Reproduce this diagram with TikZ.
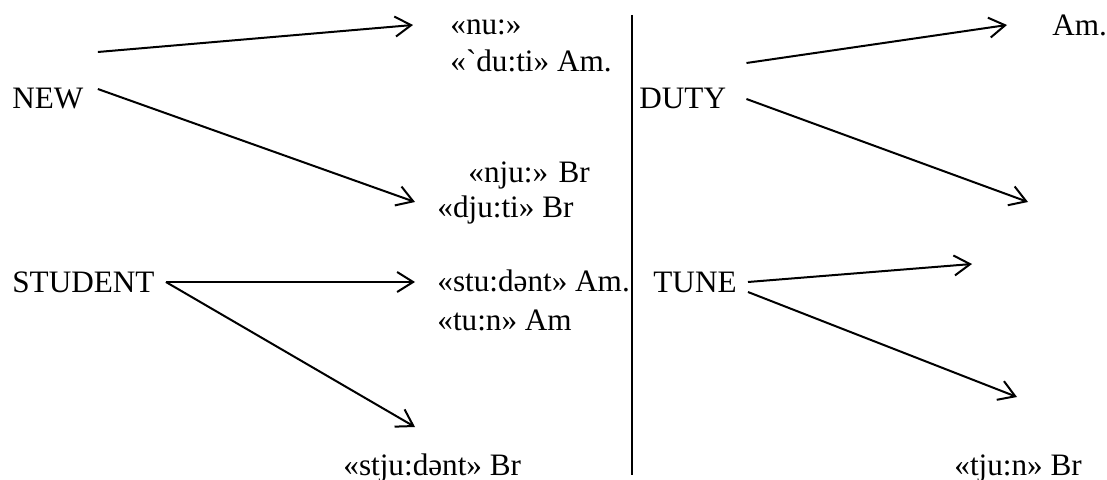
\documentclass[tikz,border=0pt]{standalone}
\usepackage{fontspec}
\setmainfont[Ligatures=TeXOff]{Liberation Serif}
\usetikzlibrary{arrows.meta}

\begin{document}
\begin{tikzpicture}[
    x=0.5pt, y=-0.5pt,
    font=\rmfamily\fontsize{15.6}{18}\selectfont,
    % Styles
    word_base/.style={
        inner sep=0pt, anchor=base west
    },
    head_word/.style={word_base},
    trans_text/.style={word_base},
    link_arrow/.style={
        -{Straight Barb[length=8pt, width=10pt, line width=1pt]}, line width=1pt
    }
]
\useasboundingbox (0,0) rectangle (1107,480);

% 1. Head words (left column)
\node[head_word] (new) at (12,109) {NEW};
\node[head_word] (student) at (12,293) {STUDENT};

% 2. Head words (right column)
\node[head_word] (duty) at (639,109) {DUTY};
\node[head_word] (tune) at (653,293) {TUNE};

% 3. Transcriptions
\node[trans_text] (nu_am) at (450,35) {«nu:»};
\node[trans_text] (duti_am) at (450,72) {«`du:ti» Am.};
\node[trans_text] (nju_br) at (468,183) {«nju:» Br};
\node[trans_text] (djuti_br) at (437,218) {«dju:ti» Br};
\node[trans_text] (student_am) at (437,292) {«stu:dənt» Am.};
\node[trans_text] (tun_am) at (437,330) {«tu:n» Am};
\node[trans_text] (student_br) at (343,475) {«stju:dənt» Br};
\node[trans_text] (am_lbl) at (1052,36) {Am.};
\node[trans_text] (tjun_br) at (954,475) {«tju:n» Br};

% 4. Arrow ends
\coordinate (new_up) at (413,25);
\coordinate (new_down) at (415,202);
\coordinate (student_right) at (415,282);
\coordinate (student_down) at (415,427);
\coordinate (duty_up) at (1007,25);
\coordinate (duty_down) at (1028,202);
\coordinate (tune_up) at (972,264);
\coordinate (tune_down) at (1017,397);

% --- Connections ---
\draw[link_arrow] ([shift={(14,-57)}]new.base east) -- (new_up);
\draw[link_arrow] ([shift={(14,-20)}]new.base east) -- (new_down);
\draw[link_arrow] ([shift={(11,-11)}]student.base east) -- (student_right);
\draw[link_arrow] ([shift={(11,-11)}]student.base east) -- (student_down);
\draw[link_arrow] ([shift={(20,-46)}]duty.base east) -- (duty_up);
\draw[link_arrow] ([shift={(20,-10)}]duty.base east) -- (duty_down);
\draw[link_arrow] ([shift={(11,-11)}]tune.base east) -- (tune_up);
\draw[link_arrow] ([shift={(11,-1)}]tune.base east) -- (tune_down);

% Divider
\coordinate (div_top) at (632,15);
\coordinate (div_bottom) at (632,475);
\draw[line width=1pt] (div_top) -- (div_bottom);

\end{tikzpicture}
\end{document}
